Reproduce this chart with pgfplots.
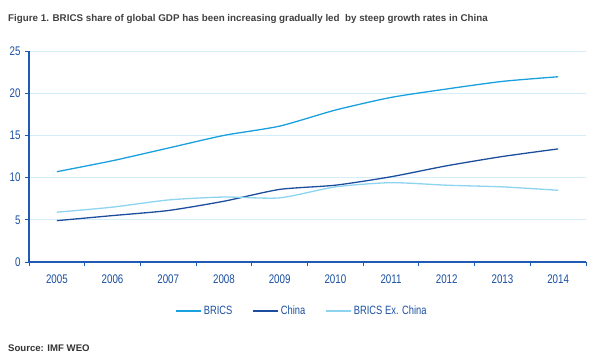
\documentclass[border=0pt]{standalone}
\usepackage{pgfplots}
\pgfplotsset{compat=1.18}
\usetikzlibrary{calc}
\usepackage{fontspec}
\setmainfont{Liberation Sans}
\newfontfamily\narrow[FakeStretch=0.78]{Liberation Sans}
\definecolor{axblue}{HTML}{1F5BB5}
\definecolor{labblue}{HTML}{1A4FA0}
\definecolor{bricsc}{HTML}{1AA0DE}
\definecolor{chinac}{HTML}{1D4E9E}
\definecolor{exc}{HTML}{8ED3F0}
\definecolor{gridc}{HTML}{D3EDF9}
\definecolor{titlec}{HTML}{404040}
\begin{document}
\begin{tikzpicture}[x=1pt,y=1pt]
\begin{axis}[
  name=ax,
  scale only axis, width=557pt, height=211pt,
  xmin=-0.5, xmax=9.5, ymin=0, ymax=25,
  axis x line*=bottom, axis y line*=left,
  axis line style={axblue, line width=1.1pt, -},
  xtick={0,...,9},
  xticklabels={2005,2006,2007,2008,2009,2010,2011,2012,2013,2014},
  major x tick style={draw=none},
  minor xtick={-0.5,0.5,...,9.5},
  minor x tick style={axblue, line width=0.8pt},
  minor tick length=4pt,
  ytick={0,5,...,25},
  y tick style={axblue, line width=0.8pt},
  major tick length=4pt,
  tick align=outside,
  ymajorgrids, grid style={gridc, line width=1pt},
  tick label style={font=\narrow\fontsize{12.5}{14}\selectfont, text=labblue},
  /pgf/number format/assume math mode=true,
  xticklabel style={yshift=-5pt},
  yticklabel style={xshift=-1pt},
  legend style={at={(0.49,-0.232)}, anchor=center, draw=none, fill=none,
    legend columns=3, font=\narrow\fontsize{12}{14}\selectfont, text=labblue,
    /tikz/every even column/.append style={column sep=18pt}},
  legend image code/.code={\draw[#1, line width=1.5pt] (0pt,0pt) -- (25pt,0pt);},
]
\addplot[bricsc, line width=1.3pt, smooth, tension=0.4] coordinates {
(0,10.7) (1,12.0) (2,13.5) (3,15.0) (4,16.1) (5,18.0) (6,19.5) (7,20.5) (8,21.4) (9,21.95)};
\addlegendentry{BRICS}
\addplot[chinac, line width=1.3pt, smooth, tension=0.4] coordinates {
(0,4.9) (1,5.5) (2,6.1) (3,7.2) (4,8.6) (5,9.1) (6,10.1) (7,11.4) (8,12.5) (9,13.4)};
\addlegendentry{China}
\addplot[exc, line width=1.3pt, smooth, tension=0.4] coordinates {
(0,5.9) (1,6.5) (2,7.35) (3,7.7) (4,7.6) (5,8.9) (6,9.4) (7,9.1) (8,8.9) (9,8.5)};
\addlegendentry{BRICS Ex. China}
\end{axis}
\pgfresetboundingbox
\path (ax.south west) ++(-29,-100) coordinate (O);
\path (O) rectangle ++(595,362);
\node[anchor=west,font=\bfseries\fontsize{9.8}{11}\selectfont,text=titlec,inner sep=0] at ($(O)+(8,343)$) {Figure 1. BRICS share of global GDP has been increasing gradually led\ \ by steep growth rates in China};
\node[anchor=west,font=\bfseries\fontsize{9.6}{11}\selectfont,text=black!80,inner sep=0] at ($(O)+(8,14)$) {Source: IMF WEO};
\end{tikzpicture}
\end{document}
